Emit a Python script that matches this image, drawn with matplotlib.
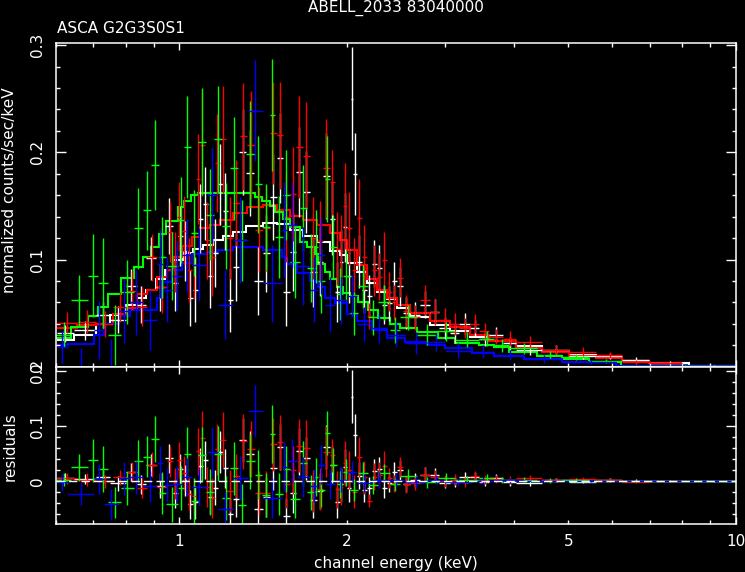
import numpy as np
import matplotlib
matplotlib.use("Agg")
import matplotlib.pyplot as plt
from matplotlib.ticker import FixedLocator, FuncFormatter, MultipleLocator

# ---- data (keV bin edges, counts/sec/keV) ----
# white: GIS2
w_edges = [0.602, 0.646, 0.708, 0.750, 0.801, 0.838, 0.870, 0.907, 0.941, 0.973,
           0.993, 1.014, 1.035, 1.057, 1.079, 1.101, 1.124, 1.148, 1.172, 1.196,
           1.221, 1.247, 1.281, 1.316, 1.363, 1.411, 1.453, 1.495, 1.536, 1.578,
           1.621, 1.665, 1.714, 1.764, 1.813, 1.862, 1.901, 1.941, 1.969, 1.998,
           2.030, 2.050, 2.082, 2.126, 2.170, 2.216, 2.262, 2.309, 2.357, 2.407,
           2.457, 2.524, 2.593, 2.702, 2.816, 2.934, 3.058, 3.187, 3.322, 3.462,
           3.608, 3.811, 4.035, 4.493, 5.023, 5.617, 6.256, 6.993, 8.25, 10.0]
w_model = [0.025, 0.030, 0.040, 0.048, 0.058, 0.064, 0.072, 0.082, 0.090,
           0.100, 0.100, 0.106, 0.106, 0.110, 0.110, 0.114, 0.114, 0.118, 0.118,
           0.122, 0.122, 0.126, 0.126, 0.131, 0.131, 0.134, 0.134, 0.133, 0.133,
           0.128, 0.128, 0.122, 0.122, 0.116, 0.116, 0.108, 0.108, 0.104, 0.104,
           0.097, 0.097, 0.097, 0.088, 0.088, 0.078, 0.078, 0.070, 0.070,
           0.063, 0.063, 0.055, 0.055, 0.046, 0.046, 0.039, 0.039, 0.033, 0.033,
           0.028, 0.028, 0.024, 0.024, 0.019, 0.014, 0.011, 0.008, 0.005, 0.003,
           0.001]
w_data = [0.031, 0.034, 0.048, 0.044, 0.075, 0.058, 0.101, 0.074, 0.131,
          0.078, 0.122, 0.108, 0.064, 0.072, 0.138, 0.152, 0.085, 0.106, 0.170,
          0.145, 0.062, 0.093, 0.200, 0.181, 0.080, 0.106, 0.158, 0.195, 0.070,
          0.107, 0.182, 0.163, 0.088, 0.098, 0.178, 0.138, 0.070, 0.098, 0.130,
          0.085, 0.250, 0.180, 0.098, 0.072, 0.066, 0.096, 0.092, 0.058,
          0.059, 0.080, 0.075, 0.050, 0.048, 0.058, 0.051, 0.036, 0.031, 0.040,
          0.036, 0.026, 0.030, 0.022, 0.016, 0.016, 0.010, 0.010, 0.006, 0.003,
          0.001]
w_err = [0.008, 0.009, 0.012, 0.013, 0.016, 0.017, 0.020, 0.022, 0.026,
         0.026, 0.028, 0.028, 0.026, 0.030, 0.032, 0.034, 0.030, 0.032, 0.038,
         0.036, 0.030, 0.032, 0.040, 0.040, 0.032, 0.036, 0.040, 0.042, 0.032,
         0.036, 0.042, 0.038, 0.032, 0.032, 0.040, 0.034, 0.028, 0.030, 0.032,
         0.026, 0.048, 0.038, 0.025, 0.022, 0.020, 0.022, 0.022, 0.018,
         0.016, 0.018, 0.018, 0.015, 0.012, 0.013, 0.012, 0.010, 0.009, 0.010,
         0.008, 0.007, 0.007, 0.006, 0.005, 0.004, 0.003, 0.003, 0.003, 0.002,
         0.001]

# red: GIS3
r_edges = [0.602, 0.654, 0.708, 0.759, 0.804, 0.838, 0.873, 0.910, 0.949, 0.973,
           0.991, 1.009, 1.030, 1.052, 1.070, 1.088, 1.111, 1.134, 1.157, 1.181,
           1.214, 1.247, 1.284, 1.321, 1.365, 1.411, 1.453, 1.495, 1.536, 1.578,
           1.621, 1.665, 1.714, 1.764, 1.813, 1.862, 1.901, 1.941, 1.969, 1.998,
           2.040, 2.082, 2.126, 2.170, 2.216, 2.262, 2.309, 2.357, 2.407, 2.457,
           2.524, 2.593, 2.702, 2.816, 2.934, 3.058, 3.187, 3.322, 3.462, 3.608,
           3.811, 4.035, 4.493, 5.023, 5.617, 6.256, 6.993, 8.017]
r_model = [0.036, 0.039, 0.040, 0.049, 0.055, 0.068, 0.072, 0.084, 0.090,
           0.102, 0.102, 0.113, 0.113, 0.121, 0.121, 0.129, 0.129, 0.132, 0.132,
           0.137, 0.137, 0.143, 0.143, 0.149, 0.149, 0.151, 0.151, 0.146, 0.146,
           0.141, 0.141, 0.137, 0.137, 0.132, 0.132, 0.125, 0.125, 0.118, 0.118,
           0.109, 0.109, 0.095, 0.095, 0.082, 0.082, 0.072, 0.072, 0.064, 0.064,
           0.058, 0.058, 0.050, 0.050, 0.043, 0.043, 0.037, 0.037, 0.030, 0.030,
           0.024, 0.024, 0.017, 0.014, 0.010, 0.008, 0.005, 0.003]
r_data = [0.041, 0.042, 0.040, 0.056, 0.071, 0.056, 0.102, 0.074, 0.126,
          0.098, 0.140, 0.127, 0.090, 0.095, 0.175, 0.207, 0.118, 0.102, 0.190,
          0.212, 0.120, 0.153, 0.215, 0.207, 0.128, 0.129, 0.218, 0.216, 0.140,
          0.161, 0.205, 0.197, 0.120, 0.117, 0.185, 0.172, 0.110, 0.108, 0.150,
          0.129, 0.090, 0.139, 0.102, 0.047, 0.090, 0.084, 0.100, 0.070, 0.060,
          0.083, 0.052, 0.046, 0.062, 0.051, 0.044, 0.040, 0.036, 0.040, 0.033,
          0.028, 0.026, 0.023, 0.016, 0.014, 0.011, 0.004, 0.003]
r_err = [0.010, 0.011, 0.012, 0.014, 0.018, 0.018, 0.022, 0.024, 0.028,
         0.028, 0.032, 0.032, 0.030, 0.032, 0.042, 0.048, 0.036, 0.036, 0.046,
         0.050, 0.038, 0.040, 0.050, 0.050, 0.040, 0.040, 0.048, 0.050, 0.042,
         0.044, 0.048, 0.050, 0.038, 0.038, 0.046, 0.030, 0.034, 0.034, 0.040,
         0.034, 0.030, 0.036, 0.030, 0.012, 0.024, 0.022, 0.026, 0.018, 0.016,
         0.018, 0.015, 0.012, 0.014, 0.012, 0.011, 0.010, 0.009, 0.009, 0.008,
         0.007, 0.007, 0.006, 0.004, 0.004, 0.003, 0.002, 0.001]

# green: SIS0
g_edges = [0.600, 0.638, 0.684, 0.713, 0.744, 0.785, 0.828, 0.859, 0.888, 0.918,
           0.945, 0.993, 1.018, 1.048, 1.079, 1.115, 1.152, 1.191, 1.231, 1.273,
           1.315, 1.365, 1.405, 1.453, 1.483, 1.533, 1.578, 1.645, 1.693, 1.750,
           1.772, 1.824, 1.862, 1.916, 1.965, 2.023, 2.091, 2.179, 2.271, 2.386,
           2.487, 2.668, 2.910, 3.122, 3.462, 3.684, 3.920, 4.401, 4.880, 5.457,
           6.229, 10.0]
g_model = [0.027, 0.037, 0.047, 0.056, 0.068, 0.083, 0.093, 0.102, 0.112, 0.124,
           0.136, 0.149, 0.155, 0.160, 0.162, 0.162, 0.162, 0.162, 0.162, 0.162,
           0.162, 0.158, 0.155, 0.150, 0.144, 0.138, 0.130, 0.116, 0.112, 0.105,
           0.096, 0.088, 0.082, 0.074, 0.069, 0.066, 0.060, 0.053, 0.045, 0.040,
           0.036, 0.032, 0.027, 0.022, 0.020, 0.018, 0.014, 0.010, 0.007, 0.0045,
           0.0008]
g_data = [0.030, 0.062, 0.085, 0.078, 0.030, 0.070, 0.129, 0.146, 0.188, 0.102,
          0.094, 0.137, 0.205, 0.125, 0.210, 0.142, 0.212, 0.131, 0.185, 0.118,
          0.198, 0.170, 0.130, 0.235, 0.121, 0.160, 0.098, 0.148, 0.092, 0.112,
          0.080, 0.175, 0.112, 0.068, 0.085, 0.050, 0.075, 0.046, 0.060, 0.034,
          0.046, 0.030, 0.033, 0.025, 0.026, 0.020, 0.017, 0.011, 0.009, 0.005,
          0.001]
g_err = [0.012, 0.024, 0.039, 0.042, 0.028, 0.030, 0.038, 0.037, 0.042, 0.038,
         0.032, 0.040, 0.048, 0.040, 0.050, 0.042, 0.050, 0.040, 0.048, 0.038,
         0.050, 0.045, 0.040, 0.052, 0.038, 0.042, 0.034, 0.040, 0.032, 0.034,
         0.030, 0.040, 0.030, 0.024, 0.024, 0.020, 0.020, 0.016, 0.016, 0.012,
         0.012, 0.010, 0.009, 0.007, 0.007, 0.006, 0.005, 0.004, 0.003, 0.002,
         0.0005]

# blue: SIS1
b_edges = [0.602, 0.630, 0.702, 0.731, 0.778, 0.814, 0.859, 0.910, 0.933, 0.969,
           1.010, 1.052, 1.119, 1.172, 1.247, 1.327, 1.411, 1.527, 1.559, 1.624,
           1.714, 1.772, 1.824, 1.901, 1.998, 2.082, 2.215, 2.357, 2.540, 2.781,
           2.996, 3.350, 3.684, 4.171, 4.880, 6.102, 10.0]
b_model = [0.020, 0.021, 0.030, 0.040, 0.047, 0.053, 0.053, 0.064, 0.079, 0.090,
           0.097, 0.105, 0.107, 0.109, 0.112, 0.112, 0.109, 0.102, 0.096, 0.087,
           0.080, 0.074, 0.064, 0.059, 0.049, 0.043, 0.034, 0.027, 0.023, 0.020,
           0.017, 0.013, 0.0096, 0.0068, 0.0043, 0.0003]
b_data = [0.018, -0.003, 0.034, -0.002, 0.052, 0.060, 0.044, 0.096, 0.072, 0.085,
          0.104, 0.095, 0.160, 0.058, 0.118, 0.239, 0.078, 0.128, 0.132, 0.094,
          0.072, 0.104, 0.058, 0.062, 0.066, 0.040, 0.036, 0.030, 0.022, 0.023,
          0.015, 0.014, 0.011, 0.007, 0.0045, 0.0003]
b_err = [0.015, 0.020, 0.027, 0.028, 0.030, 0.030, 0.028, 0.032, 0.030, 0.032,
         0.034, 0.034, 0.045, 0.032, 0.040, 0.047, 0.036, 0.044, 0.040, 0.036,
         0.030, 0.036, 0.026, 0.022, 0.020, 0.016, 0.014, 0.012, 0.010, 0.008,
         0.007, 0.006, 0.005, 0.004, 0.002, 0.0005]

series = [
    (w_edges, w_model, w_data, w_err, "white"),
    (r_edges, r_model, r_data, r_err, "#ff0000"),
    (g_edges, g_model, g_data, g_err, "#00ff00"),
    (b_edges, b_model, b_data, b_err, "#0000ff"),
]

title = "ABELL_2033 83040000"
subtitle = "ASCA G2G3S0S1"

FG = "white"
plt.rcParams["font.family"] = ["DejaVu Sans"]

fig = plt.figure(figsize=(7.45, 5.72), dpi=100, facecolor="black")
ax = fig.add_axes([0.0752, 0.3589, 0.9124, 0.5659], facecolor="black")
axr = fig.add_axes([0.0752, 0.0834, 0.9124, 0.2755], facecolor="black", sharex=ax)

# data crosses first, then folded models on top
for edges, model, data, err, col in series:
    edges = np.asarray(edges)
    lo, hi = edges[:-1], edges[1:]
    x = (lo + hi) / 2
    data = np.asarray(data)
    resid = data - np.asarray(model)
    ax.errorbar(x, data, xerr=[x - lo, hi - x], yerr=err, fmt="none",
                ecolor=col, elinewidth=1.0, capsize=0)
    axr.errorbar(x, resid, xerr=[x - lo, hi - x], yerr=err, fmt="none",
                 ecolor=col, elinewidth=1.0, capsize=0)

for edges, model, data, err, col in series:
    ax.stairs(model, edges, baseline=None, color=col, lw=1.5)

axr.axhline(0, color=FG, lw=1.0, ls=(0, (6, 3)), zorder=3)

ax.set_xscale("log")
ax.set_xlim(0.6, 10.0)
ax.set_ylim(0, 0.302)
axr.set_ylim(-0.078, 0.207)

def ylab(v, pos):
    return "0" if abs(v) < 1e-9 else "%.1f" % v

for a in (ax, axr):
    a.xaxis.set_major_locator(FixedLocator([1, 10]))
    a.xaxis.set_minor_locator(FixedLocator([0.6, 0.7, 0.8, 0.9, 2, 3, 4, 5, 6, 7, 8, 9]))
    a.yaxis.set_major_locator(MultipleLocator(0.1))
    a.yaxis.set_minor_locator(MultipleLocator(0.02))
    a.yaxis.set_major_formatter(FuncFormatter(ylab))
    for s in a.spines.values():
        s.set_color(FG)
        s.set_linewidth(1.1)
    a.tick_params(which="both", direction="in", colors=FG, top=True, right=True,
                  labelsize=11, width=1.0)
    a.tick_params(axis="x", which="major", length=5)
    a.tick_params(axis="x", which="minor", length=3)
    a.tick_params(axis="y", which="major", length=7, pad=8, labelrotation=90)
    a.tick_params(axis="y", which="minor", length=3.2)
    for t in a.get_yticklabels():
        t.set_va("center")

ax.tick_params(axis="x", which="both", labelbottom=False)
axr.xaxis.set_major_formatter(FuncFormatter(lambda v, p: "%g" % v))
axr.xaxis.set_minor_formatter(FuncFormatter(lambda v, p: "%g" % v if v in (2, 5) else ""))
axr.tick_params(axis="x", which="both", pad=7)

fig.text(0.531, 0.979, title, color=FG, fontsize=11, ha="center", va="baseline")
fig.text(0.0765, 0.9423, subtitle, color=FG, fontsize=11, ha="left", va="baseline")
fig.text(0.531, 0.007, "channel energy (keV)", color=FG, fontsize=11, ha="center", va="baseline")
fig.text(0.0134, 0.668, "normalized counts/sec/keV", color=FG, fontsize=11,
         rotation=90, ha="center", va="center")
fig.text(0.0134, 0.220, "residuals", color=FG, fontsize=11,
         rotation=90, ha="center", va="center")

fig.savefig("out.png", dpi=100, facecolor="black")
